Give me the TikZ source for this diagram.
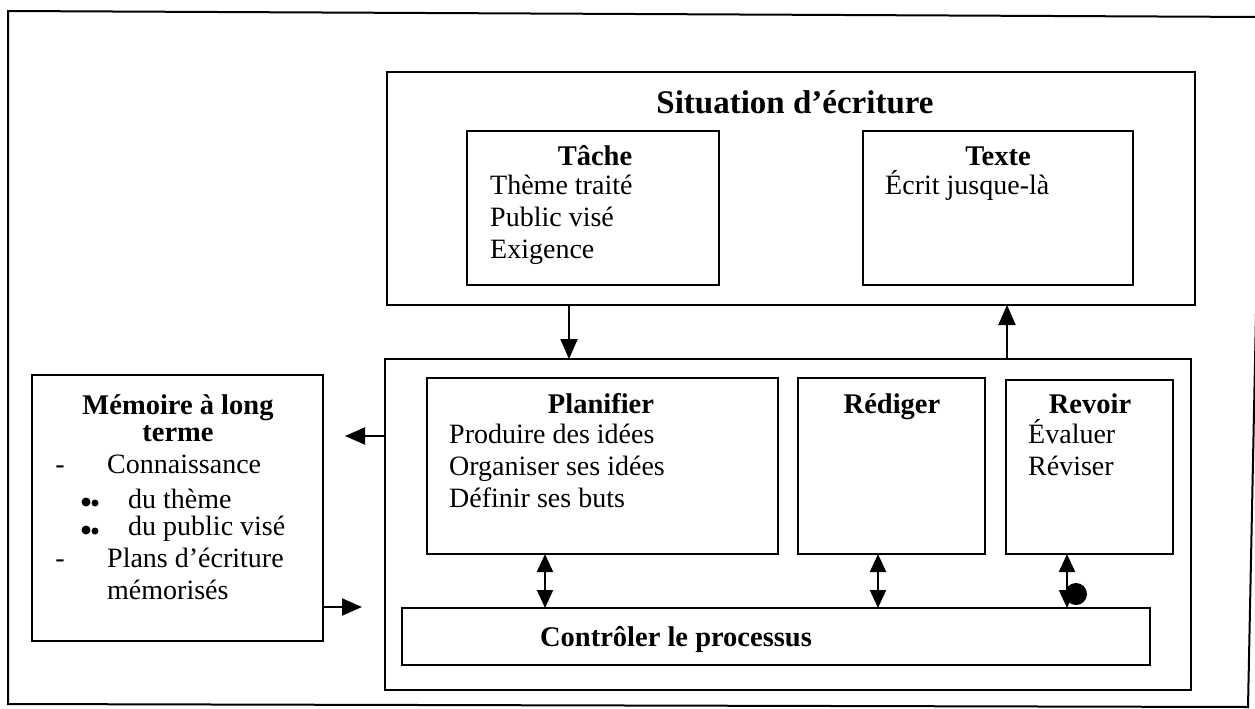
\documentclass[tikz,border=0pt]{standalone}
\usepackage{fontspec}
\setmainfont{Liberation Serif}
\usetikzlibrary{arrows.meta}
\begin{document}
\begin{tikzpicture}[x=1pt,y=-1pt,
  box/.style={draw, line width=2pt, inner sep=0pt, outer sep=0pt, anchor=north west},
  arr/.style={line width=2pt, -{Triangle[length=20pt,width=17pt]}},
  dbl/.style={line width=2pt, {Triangle[length=18pt,width=16pt]}-{Triangle[length=18pt,width=16pt]}},
  title/.style={font=\fontsize{33}{36}\selectfont\bfseries, anchor=base, inner sep=0pt},
  head/.style={font=\fontsize{28.5}{30}\selectfont\bfseries, anchor=base, inner sep=0pt},
  body/.style={font=\fontsize{28}{30}\selectfont, anchor=base west, inner sep=0pt},
  bodyc/.style={font=\fontsize{28}{30}\selectfont, anchor=base, inner sep=0pt},
  dot/.style={circle, fill, inner sep=0pt},
]
\useasboundingbox (0,0) rectangle (1255,709);

% outer frame (slightly skewed, right edge leaves the page at the top)
\draw[line width=2pt] (8,11) -- (1262,17) -- (1248,707) -- (8,704) -- cycle;

% writing situation
\node[box, minimum width=808pt, minimum height=233pt] (sit) at (387,72) {};
\node[title] (sittitle) at (795,113) {Situation d’écriture};

\node[box, minimum width=252pt, minimum height=154pt] (tache) at (467,131) {};
\node[head] (tachetitle) at (595,165) {Tâche};
\node[body] (t1) at (490,194) {Thème traité};
\node[body] (t2) at (490,226) {Public visé};
\node[body] (t3) at (490,258) {Exigence};

\node[box, minimum width=270pt, minimum height=154pt] (texte) at (863,131) {};
\node[head] (textetitle) at (998,165) {Texte};
\node[body] (x1) at (885,194) {Écrit jusque-là};

% writing process
\node[box, minimum width=806pt, minimum height=331pt] (proc) at (385,359) {};

\node[box, minimum width=351pt, minimum height=176pt] (planif) at (427,378) {};
\node[head] (planiftitle) at (601,413) {Planifier};
\node[body] (p1) at (449,443) {Produire des idées};
\node[body] (p2) at (449,475) {Organiser ses idées};
\node[body] (p3) at (449,507) {Définir ses buts};

\node[box, minimum width=187pt, minimum height=176pt] (rediger) at (798,378) {};
\node[head] (redigertitle) at (892,413) {Rédiger};

\node[box, minimum width=167pt, minimum height=174pt] (revoir) at (1006,380) {};
\node[head] (revoirtitle) at (1090,413) {Revoir};
\node[body] (r1) at (1028,443) {Évaluer};
\node[body] (r2) at (1028,475) {Réviser};

\node[box, minimum width=748pt, minimum height=57pt] (ctrl) at (402,608) {};
\node[head] (ctrltitle) at (676,646) {Contrôler le processus};

% long-term memory
\node[box, minimum width=291pt, minimum height=266pt] (mem) at (32,375) {};
\node[head] (memtitle1) at (178,414) {Mémoire à long};
\node[head] (memtitle2) at (178,441) {terme};
\node[bodyc] (dash1) at (60,473) {-};
\node[body] (m1) at (107,473) {Connaissance};
\node[dot, minimum size=9pt] (b1a) at (86,502) {};
\node[dot, minimum size=7pt] (b1b) at (95,503) {};
\node[body] (m2) at (128,508) {du thème};
\node[dot, minimum size=9pt] (b2a) at (86,530) {};
\node[dot, minimum size=7pt] (b2b) at (95,531) {};
\node[body] (m3) at (128,535) {du public visé};
\node[bodyc] (dash2) at (60,567) {-};
\node[body] (m4) at (107,567) {Plans d’écriture};
\node[body] (m5) at (107,599) {mémorisés};

% connectors
\coordinate (xdown) at (569,0);
\coordinate (xup) at (1007,0);
\coordinate (xa) at (545,0);
\coordinate (xb) at (878,0);
\coordinate (xc) at (1067,0);
\coordinate (memin) at (345,436);
\coordinate (memout) at (362,607);
\coordinate (yin) at (0,436);
\coordinate (yout) at (0,607);

\draw[arr] (sit.south -| xdown) -- (proc.north -| xdown);
\draw[arr] (proc.north -| xup) -- (sit.south -| xup);
\draw[arr] (proc.west |- yin) -- (memin);
\draw[arr] (mem.east |- yout) -- (memout);

\draw[dbl] (planif.south -| xa) -- (ctrl.north -| xa);
\draw[dbl] (rediger.south -| xb) -- (ctrl.north -| xb);
\draw[dbl] (revoir.south -| xc) -- (ctrl.north -| xc);
\node[dot, minimum size=22pt] (blob) at (1076,594) {};
\end{tikzpicture}
\end{document}
